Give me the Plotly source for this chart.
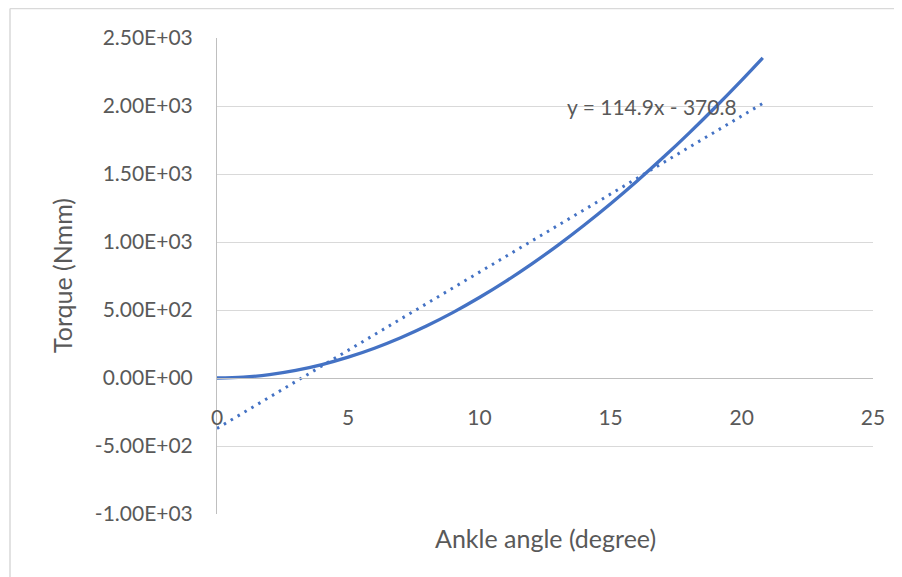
import plotly.graph_objects as go

# Data
angle_deg = [0, 1, 2, 3, 4, 5, 6, 7, 8, 9, 10, 11, 12, 13, 14, 15, 16, 17, 18, 19, 20, 20.8]
torque_nmm = [0, 6.3, 25.1, 56.0, 98.9, 153.4, 219.3, 296.3, 384.3, 482.7, 591.6, 710.5,
              839.3, 977.5, 1125.1, 1281.6, 1446.9, 1620.7, 1802.7, 1992.7, 2190.4, 2354]

# Linear trendline from the equation label
trend_slope = 114.9
trend_intercept = -370.8
trend_label = "y = 114.9x - 370.8"

y_tickvals = [-1000, -500, 0, 500, 1000, 1500, 2000, 2500]
y_ticktext = ["-1.00E+03", "-5.00E+02", "0.00E+00", "5.00E+02", "1.00E+03",
              "1.50E+03", "2.00E+03", "2.50E+03"]
x_tickvals = [0, 5, 10, 15, 20, 25]

x_range = [0, 25]
y_range = [-1000, 2500]

trend_x = [min(angle_deg), max(angle_deg)]
trend_y = [trend_slope * v + trend_intercept for v in trend_x]

FONT = "Lato"
TXT = "#595959"
BLUE = "#4472C4"

OFF = 8  # page body margin
W, H = 902 - OFF, 577 - OFF
# plot area in reference pixel coords: x 217..873, y 38..514
L, R, T, B = 217 - OFF, 902 - 873, 38 - OFF, 577 - 514
pw = W - L - R
ph = H - T - B


def px_x(p):
    return (p - OFF - L) / pw


def px_y(q):
    return (H - B - (q - OFF)) / ph


fig = go.Figure()
fig.add_trace(go.Scatter(x=angle_deg, y=torque_nmm, mode="lines", line_shape="spline",
                         line=dict(color=BLUE, width=3.3), showlegend=False, hoverinfo="skip"))
fig.add_trace(go.Scatter(x=trend_x, y=trend_y, mode="lines",
                         line=dict(color=BLUE, width=3, dash="2.5px,5.5px"),
                         showlegend=False, hoverinfo="skip"))

zero_pos = (0 - y_range[0]) / (y_range[1] - y_range[0])

fig.update_layout(
    width=W, height=H,
    margin=dict(l=L, r=R, t=T, b=B),
    paper_bgcolor="white", plot_bgcolor="white",
    font=dict(family=FONT, size=21, color=TXT),
    xaxis=dict(range=x_range, tickvals=x_tickvals, showgrid=False, zeroline=False,
               anchor="free", position=zero_pos, showline=True, linecolor="#bfbfbf",
               linewidth=1, ticks="outside", ticklen=21, tickcolor="rgba(0,0,0,0)",
               tickfont=dict(family=FONT, size=21, color=TXT)),
    yaxis=dict(range=y_range, tickvals=y_tickvals, ticktext=y_ticktext,
               showgrid=True, gridcolor="#d9d9d9", gridwidth=1, zeroline=False,
               showline=True, linecolor="#bfbfbf", linewidth=1,
               ticks="outside", ticklen=19, tickcolor="rgba(0,0,0,0)",
               tickfont=dict(family=FONT, size=21, color=TXT)),
    annotations=[
        dict(text="Ankle angle (degree)", xref="paper", yref="paper",
             x=px_x(545), y=px_y(538), showarrow=False,
             font=dict(family=FONT, size=25, color=TXT), xanchor="center", yanchor="middle"),
        dict(text="Torque (Nmm)", xref="paper", yref="paper",
             x=px_x(62), y=0.5, textangle=-90, showarrow=False,
             font=dict(family=FONT, size=25, color=TXT), xanchor="center", yanchor="middle"),
        dict(text=trend_label, xref="x", yref="y", x=16.58, y=2000, showarrow=False,
             font=dict(family=FONT, size=21, color=TXT), xanchor="center", yanchor="middle"),
    ],
    shapes=[
        dict(type="line", xref="paper", yref="paper", x0=px_x(10), x1=px_x(10),
             y0=px_y(600), y1=px_y(8.5), line=dict(color="#d9d9d9", width=1.5)),
        dict(type="line", xref="paper", yref="paper", x0=px_x(10), x1=px_x(920),
             y0=px_y(8.5), y1=px_y(8.5), line=dict(color="#d9d9d9", width=1.5)),
    ],
)

fig.write_html("out.html")
